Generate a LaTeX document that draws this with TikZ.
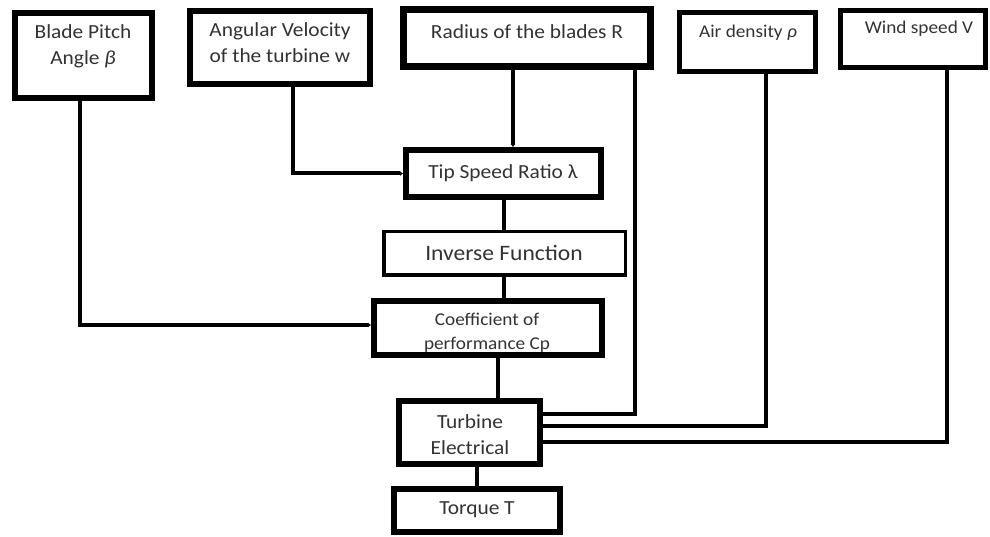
\documentclass[tikz,border=0pt]{standalone}
\usepackage{fontspec}
\setmainfont{Carlito}[FakeStretch=1.07]
\usetikzlibrary{arrows.meta}
\definecolor{txtgray}{HTML}{333333}
\begin{document}
\begin{tikzpicture}[x=1pt,y=-1pt,
  box/.style={draw=black,line width=6pt,rectangle,inner sep=0pt,fill=white},
  txt/.style={text=txtgray,align=center,inner sep=0pt,font=\fontsize{20}{26}\selectfont},
  conn/.style={draw=black,line width=4pt},
  arr/.style={conn,-{Latex[length=3pt,width=5pt]}}]
\useasboundingbox (0,0) rectangle (990,537);
% boxes
\node[box,minimum width=137pt,minimum height=85pt] (blade) at (83.5,55.5) {};
\node[box,minimum width=180pt,minimum height=73pt] (angular) at (280,47.5) {};
\node[box,line width=7pt,minimum width=247pt,minimum height=57pt] (radius) at (527,38) {};
\node[box,line width=5pt,minimum width=136pt,minimum height=59pt] (air) at (747.5,42) {};
\node[box,line width=5pt,minimum width=145pt,minimum height=57pt] (wind) at (913,39) {};
\node[box,minimum width=195pt,minimum height=47pt] (tip) at (503.5,173.5) {};
\node[box,line width=3.5pt,minimum width=241.5pt,minimum height=43.5pt] (inverse) at (504.5,253.5) {};
\node[box,minimum width=228pt,minimum height=54pt] (coeff) at (488,328) {};
\node[box,minimum width=141pt,minimum height=63pt] (turbine) at (469.5,432.5) {};
\node[box,minimum width=166pt,minimum height=43pt] (torque) at (477,510.5) {};
% texts
\node[txt] (blade-t) at (83,46.5) {Blade Pitch\\Angle {\itshape β}};
\node[txt] (angular-t) at (280,43) {Angular Velocity\\of the turbine w};
\node[txt] (radius-t) at (527,32) {Radius of the blades R};
\node[txt,font=\fontsize{18}{22}\selectfont] (air-t) at (748,33) {Air density {\itshape ρ}};
\node[txt,font=\fontsize{18}{22}\selectfont] (wind-t) at (919,29) {Wind speed V};
\node[txt] (tip-t) at (503,173) {Tip Speed Ratio λ};
\node[txt,font=\fontsize{22}{26}\selectfont] (inverse-t) at (504,253) {Inverse Function};
\node[txt,font=\fontsize{18}{24}\selectfont] (coeff-t) at (487,333) {Coefficient of\\performance Cp};
\node[txt] (turbine-t) at (470,435) {Turbine\\Electrical};
\node[txt] (torque-t) at (477,510) {Torque T};
% connectors
\draw[arr] ([xshift=-3.5pt]blade.south) |- ([yshift=3pt]coeff.west);
\draw[arr] ([xshift=13pt]angular.south) |- (tip.west);
\draw[arr] ([xshift=-14pt]radius.south) -- ([xshift=-14pt]radius.south |- tip.north);
\draw[conn] ([xshift=108pt]radius.south) |- ([yshift=18.5pt]turbine.east);
\draw[conn] ([xshift=18.5pt]air.south) |- ([yshift=6.5pt]turbine.east);
\draw[conn] ([xshift=34pt]wind.south) |- ([yshift=-9.5pt]turbine.east);
\draw[conn] (tip.south) -- (tip.south |- inverse.north);
\draw[conn] ([xshift=-1pt]inverse.south) -- ([xshift=-1pt]inverse.south |- coeff.north);
\draw[conn] ([xshift=10pt]coeff.south) -- ([xshift=10pt]coeff.south |- turbine.north);
\draw[conn] ([xshift=7.5pt]turbine.south) -- ([xshift=7.5pt]turbine.south |- torque.north);
\end{tikzpicture}
\end{document}
